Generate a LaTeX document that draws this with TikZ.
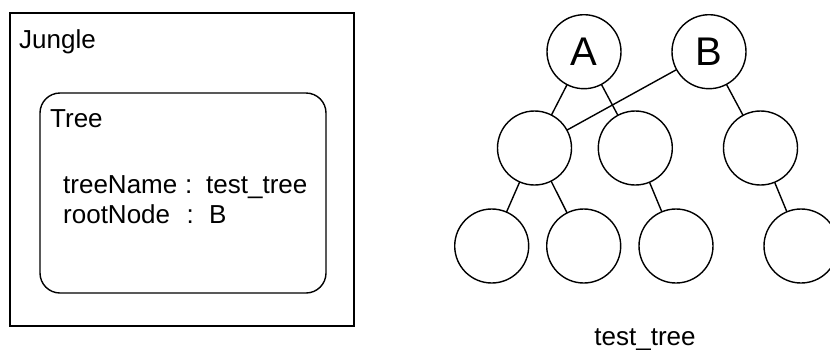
\documentclass[tikz,border=0pt]{standalone}
\usepackage{fontspec}
\setmainfont{Liberation Sans}
\begin{document}
\begin{tikzpicture}[x=1pt,y=-1pt,
  box/.style={draw,line width=1.4pt},
  treenode/.style={draw,circle,line width=1.4pt,minimum size=74pt,inner sep=0pt,outer sep=0pt,font=\fontsize{40}{46}\selectfont},
  txt/.style={inner sep=0pt,anchor=base west,font=\fontsize{26}{30}\selectfont},
  edge/.style={line width=1.4pt}]
\useasboundingbox (0,0) rectangle (830,349);
% left part
\draw[box] (10,13) rectangle (354,326);
\draw[box,rounded corners=20pt] (40,93) rectangle (326,293);
\node[txt] (jungle) at (19,48) {Jungle};
\node[txt] (tree) at (50,127) {Tree};
\node[txt] (n1) at (63,193) {treeName};
\node[txt] (c1) at (185,193) {:};
\node[txt] (v1) at (206,193) {test\_tree};
\node[txt] (n2) at (63,223) {rootNode};
\node[txt] (c2) at (186.5,223) {:};
\node[txt] (v2) at (209,223) {B};
% tree
\node[treenode] (A) at (584,51.7) {A};
\node[treenode] (B) at (709,51.7) {B};
\node[treenode] (m1) at (534.5,148) {};
\node[treenode] (m2) at (635.3,148) {};
\node[treenode] (m3) at (760.5,148) {};
\node[treenode] (b1) at (491.7,246) {};
\node[treenode] (b2) at (583.7,246) {};
\node[treenode] (b3) at (676,246) {};
\node[treenode] (b4) at (801,246) {};
\draw[edge] (A) -- (m1);
\draw[edge] (A) -- (m2);
\draw[edge] (B) -- (m1);
\draw[edge] (B) -- (m3);
\draw[edge] (m1) -- (b1);
\draw[edge] (m1) -- (b2);
\draw[edge] (m2) -- (b3);
\draw[edge] (m3) -- (b4);
\node[txt,anchor=base] (label) at (645,345) {test\_tree};
\end{tikzpicture}
\end{document}
